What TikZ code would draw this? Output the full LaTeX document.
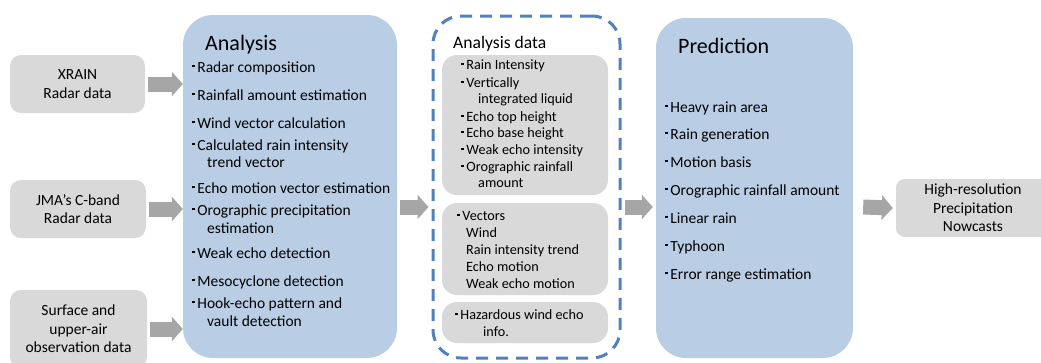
\documentclass[tikz,border=0pt]{standalone}
\usepackage{fontspec}
\setmainfont{Carlito}
\usetikzlibrary{arrows.meta}
\definecolor{boxgray}{HTML}{D9D9D9}
\definecolor{panelblue}{HTML}{B9CDE5}
\definecolor{dashblue}{HTML}{4F81BD}
\definecolor{arrowgray}{HTML}{A6A6A6}
\newcommand{\bul}{\raisebox{0.3em}{\rule{2.6pt}{2.6pt}}\hspace{2.6pt}}

\begin{document}
\begin{tikzpicture}
[x=1pt,y=-1pt,
  inputbox/.style={shape=rectangle,fill=boxgray,rounded corners=11pt,align=center,%
    font=\fontsize{15.5}{18.5}\selectfont},
  panel/.style={shape=rectangle,fill=panelblue,rounded corners=30pt},
  subbox/.style={shape=rectangle,fill=boxgray,rounded corners=15pt},
  itemtext/.style={anchor=base west,inner sep=0pt,font=\fontsize{15.5}{18.5}\selectfont},
  smalltext/.style={anchor=base west,inner sep=0pt,font=\fontsize{14.2}{17}\selectfont},
  titletext/.style={anchor=base west,inner sep=0pt,font=\fontsize{22}{26}\selectfont},
  blockarrow/.style={arrowgray,line width=15pt,-{Triangle[length=11pt,width=24pt]}}]
\clip (0,0) rectangle (1041,362);
%% input boxes
\node (xrain) at (77.5,84) [inputbox,minimum width=135pt,minimum height=58pt] {XRAIN\\Radar data};
\node (jma) at (78,209) [inputbox,minimum width=136pt,minimum height=58pt] {JMA’s C-band\\Radar data};
\node (surface) at (78.5,329) [inputbox,minimum width=137pt,minimum height=78pt] {Surface and\\upper-air\\observation data};
%% panels
\node (analysis) at (290,186.5) [panel,minimum width=214pt,minimum height=343pt] {};
\node (adata) at (526.5,187) [shape=rectangle,draw=dashblue,line width=3pt,%
  dash pattern=on 12pt off 8pt,rounded corners=28pt,minimum width=187pt,minimum height=342pt] {};
\node (scalars) at (525,125) [subbox,minimum width=166pt,minimum height=140pt] {};
\node (vectors) at (525,249) [subbox,minimum width=166pt,minimum height=92pt] {};
\node (hazard) at (525,322.5) [subbox,minimum width=166pt,minimum height=41pt] {};
\node (prediction) at (754.5,188) [panel,minimum width=197pt,minimum height=340pt] {};
\node (nowcast) at (973,208) [inputbox,rounded corners=9pt,minimum width=154pt,minimum height=58pt]
  {High-resolution\\Precipitation\\Nowcasts};
%% titles
\node (antitle) at (205,50) [titletext] {Analysis};
\node (adtitle) at (453,48.5) [titletext,font=\fontsize{17.6}{21}\selectfont] {Analysis data};
\node (prtitle) at (678,53) [titletext] {Prediction};
%% analysis items
\foreach \x/\y/\txt [count=\i] in {192/72/\bul Radar composition, 192/100/\bul Rainfall amount estimation,
  192/128/\bul Wind vector calculation, 192/150/\bul Calculated rain intensity, 207/167/trend vector,
  192/193/\bul Echo motion vector estimation, 192/215/\bul Orographic precipitation, 207/233/estimation,
  192/258/\bul Weak echo detection, 192/286/\bul Mesocyclone detection,
  192/308/\bul Hook-echo pattern and, 207/326/vault detection} {
  \node (an\i) at (\x,\y) [itemtext] {\txt};
}
%% analysis data items
\foreach \x/\y/\txt [count=\i] in {461/69.5/\bul Rain Intensity, 461/87.5/\bul Vertically,
  478/103.5/integrated liquid, 461/121.5/\bul Echo top height, 461/137.5/\bul Echo base height,
  461/154.5/\bul Weak echo intensity, 461/171.5/\bul Orographic rainfall, 478/187.5/amount,
  457/220.5/\bul Vectors, 466/237.5/Wind, 466/254.5/Rain intensity trend, 466/271.5/Echo motion,
  466/288.5/Weak echo motion, 455/319.5/\bul Hazardous wind echo, 483/336.5/info.} {
  \node (ad\i) at (\x,\y) [smalltext] {\txt};
}
%% prediction items
\foreach \y/\txt [count=\i] in {112/Heavy rain area, 139/Rain generation, 167/Motion basis,
  195/Orographic rainfall amount, 223/Linear rain, 251/Typhoon, 279/Error range estimation} {
  \node (pr\i) at (665,\y) [itemtext] {\bul\txt};
}
%% arrows
\coordinate (midrow) at (0,207);
\draw[blockarrow] ([xshift=3pt]xrain.east) -- (xrain.east -| analysis.west);
\draw[blockarrow] ([xshift=3pt]jma.east) -- (jma.east -| analysis.west);
\draw[blockarrow] ([xshift=3pt]surface.east) -- (surface.east -| analysis.west);
\draw[blockarrow] ([xshift=3pt]analysis.east |- midrow) -- ([xshift=-3pt]adata.west |- midrow);
\draw[blockarrow] ([xshift=3pt]adata.east |- midrow) -- ([xshift=-3pt]prediction.west |- midrow);
\draw[blockarrow] ([xshift=10pt]prediction.east |- midrow) -- ([xshift=-3pt]nowcast.west);
\end{tikzpicture}
\end{document}
